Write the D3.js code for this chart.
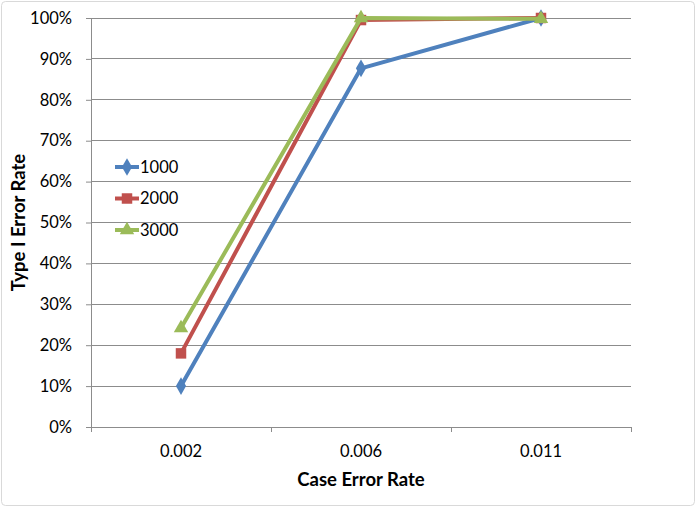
<!DOCTYPE html>
<html><head><meta charset="utf-8">
<script src="https://cdn.jsdelivr.net/npm/d3@7"></script>
<style>body{margin:0;background:#fff}svg{display:block}</style>
</head><body>
<script>
const categories = ["0.002", "0.006", "0.011"];
const seriesNames = ["1000", "2000", "3000"];
const s1000 = [0.10, 0.877, 1.0];
const s2000 = [0.18, 0.995, 1.0];
const s3000 = [0.242, 1.0, 0.998];
const yTicks = [0,0.1,0.2,0.3,0.4,0.5,0.6,0.7,0.8,0.9,1.0];
const colors = ["#4F81BD", "#C0504D", "#9BBB59"];
const symbols = [d3.symbolDiamond, d3.symbolSquare, d3.symbolTriangle];

const W = 698, H = 509;
const m = {left: 91, right: 67, top: 18, bottom: 82};
const svg = d3.select("body").append("svg").attr("width", W).attr("height", H);
const font = "Lato, 'Open Sans', sans-serif";

svg.append("rect").attr("x", 1.5).attr("y", 1.5).attr("width", W - 5).attr("height", H - 5)
  .attr("rx", 4).attr("fill", "#fff").attr("stroke", "#d9d9d9");

const x = d3.scaleBand().domain(categories).range([m.left, W - m.right]);
const y = d3.scaleLinear().domain([0, 1]).range([H - m.bottom, m.top]);

// gridlines
svg.append("g").selectAll("line").data(yTicks.slice(1)).join("line")
  .attr("x1", m.left).attr("x2", W - m.right)
  .attr("y1", d => y(d)).attr("y2", d => y(d))
  .attr("stroke", "#8c8c8c").attr("stroke-width", 1).attr("shape-rendering", "crispEdges");

// y axis
const yAxis = svg.append("g").attr("transform", `translate(${m.left},0)`)
  .call(d3.axisLeft(y).tickValues(yTicks).tickFormat(d3.format(".0%")).tickSize(5).tickPadding(14));
yAxis.select(".domain").attr("stroke", "#8c8c8c");
yAxis.selectAll(".tick line").attr("stroke", "#8c8c8c");
yAxis.selectAll("text").attr("font-family", font).attr("font-size", 16.5).attr("fill", "#000");

// x axis
const xAxis = svg.append("g").attr("transform", `translate(0,${H - m.bottom})`)
  .call(d3.axisBottom(x).tickSize(0).tickPadding(18));
xAxis.select(".domain").attr("stroke", "#8c8c8c");
xAxis.selectAll("text").attr("font-family", font).attr("font-size", 16.5).attr("fill", "#000");
// boundary ticks
const bounds = categories.map(c => x(c)).concat([x(categories[categories.length-1]) + x.bandwidth()]);
svg.append("g").selectAll("line").data(bounds).join("line")
  .attr("x1", d => d).attr("x2", d => d)
  .attr("y1", H - m.bottom).attr("y2", H - m.bottom + 5)
  .attr("stroke", "#8c8c8c").attr("shape-rendering", "crispEdges");

// series
const allSeries = [s1000, s2000, s3000];
const line = d3.line().x((d, i) => x(categories[i]) + x.bandwidth() / 2).y(d => y(d));
allSeries.forEach((s, k) => {
  const g = svg.append("g");
  g.append("path").attr("d", line(s)).attr("fill", "none")
    .attr("stroke", colors[k]).attr("stroke-width", 4).attr("stroke-linejoin", "round");
  g.selectAll("path.m").data(s).join("path").attr("class", "m")
    .attr("transform", (d, i) => `translate(${x(categories[i]) + x.bandwidth() / 2},${y(d)})`)
    .attr("d", d3.symbol().type(symbols[k]).size(k === 1 ? 110 : 90))
    .attr("fill", colors[k]);
});

// legend
const leg = svg.append("g").attr("transform", "translate(115,167)");
seriesNames.forEach((n, k) => {
  const g = leg.append("g").attr("transform", `translate(0,${k * 31.5})`);
  g.append("line").attr("x1", 0).attr("x2", 24).attr("stroke", colors[k]).attr("stroke-width", 4);
  g.append("path").attr("transform", "translate(12,0)")
    .attr("d", d3.symbol().type(symbols[k]).size(k === 1 ? 110 : 90)).attr("fill", colors[k]);
  g.append("text").attr("x", 25).attr("y", 0).attr("dy", "0.35em")
    .attr("font-family", font).attr("font-size", 16.5).text(n);
});

// axis titles
svg.append("text").attr("x", (m.left + W - m.right) / 2).attr("y", 486)
  .attr("text-anchor", "middle").attr("font-family", font).attr("font-weight", "bold")
  .attr("font-size", 18.5).text("Case Error Rate");
svg.append("text").attr("transform", `translate(25,${(m.top + H - m.bottom) / 2}) rotate(-90)`)
  .attr("text-anchor", "middle").attr("font-family", font).attr("font-weight", "bold")
  .attr("font-size", 18.5).text("Type I Error Rate");
</script>
</body></html>
